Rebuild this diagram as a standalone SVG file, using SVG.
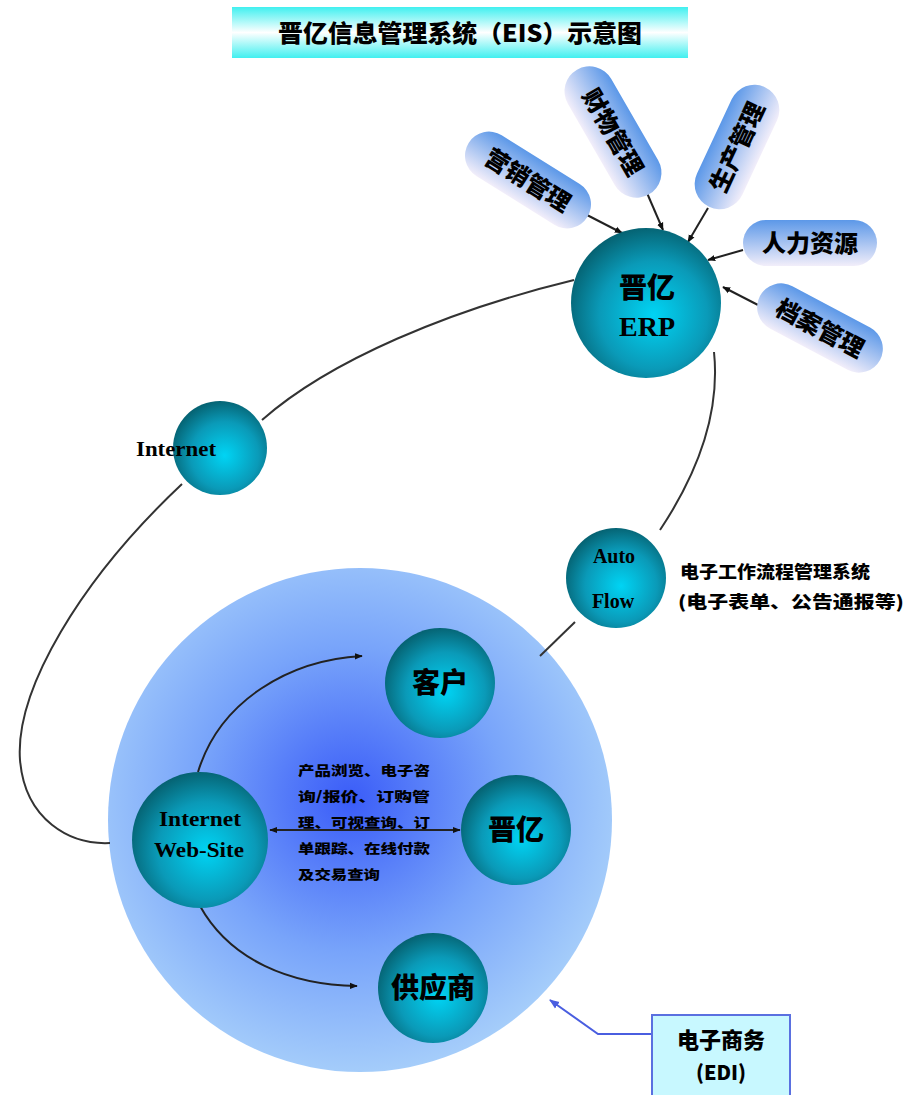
<svg xmlns="http://www.w3.org/2000/svg" width="916" height="1095" viewBox="0 0 916 1095">
<defs>
<linearGradient id="banner" x1="0" y1="0" x2="0" y2="1">
<stop offset="0" stop-color="#40f0f0"/><stop offset="0.5" stop-color="#ffffff"/><stop offset="1" stop-color="#40f0f0"/>
</linearGradient>
<radialGradient id="sphere" cx="0.55" cy="0.58" r="0.6">
<stop offset="0" stop-color="#00d4f4"/><stop offset="0.6" stop-color="#0a9ab8"/><stop offset="1" stop-color="#05606f"/>
</radialGradient>
<radialGradient id="big" cx="0.48" cy="0.46" r="0.55">
<stop offset="0" stop-color="#3a5cf8"/><stop offset="0.55" stop-color="#78a4fa"/><stop offset="1" stop-color="#a6cefa"/>
</radialGradient>
<linearGradient id="pill" x1="0" y1="0" x2="0" y2="1">
<stop offset="0" stop-color="#5c98e8"/><stop offset="1" stop-color="#f2eefa"/>
</linearGradient>
<marker id="ah" viewBox="0 0 10 10" refX="9" refY="5" markerWidth="8" markerHeight="8" orient="auto-start-reverse" markerUnits="userSpaceOnUse">
<path d="M0,1 L10,5 L0,9 Z" fill="#111"/>
</marker>
<marker id="ahb" viewBox="0 0 10 10" refX="9" refY="5" markerWidth="10" markerHeight="10" orient="auto" markerUnits="userSpaceOnUse">
<path d="M0,1 L10,5 L0,9 Z" fill="#4a5ee0"/>
</marker>
</defs>
<style>
.cj{font-family:"Noto Sans CJK SC","Noto Sans",sans-serif;font-weight:900;fill:#000}
.lt{font-family:"Liberation Serif","Times New Roman",serif;font-weight:bold;fill:#000}
.sph{fill:url(#sphere)}
.pl{fill:url(#pill)}
.con{fill:none;stroke:#333;stroke-width:2}
.arr{fill:none;stroke:#222;stroke-width:2;marker-end:url(#ah)}
.t22{font-size:24px;text-anchor:middle}
</style>
<rect width="916" height="1095" fill="#fff"/>

<g id="title">
<rect x="232" y="7" width="456" height="51" fill="url(#banner)"/>
<text x="460" y="42" class="cj" font-size="24" text-anchor="middle" textLength="364" lengthAdjust="spacingAndGlyphs">晋亿信息管理系统（EIS）示意图</text>
</g>

<g id="bigcircle">
<circle cx="360" cy="820" r="252" fill="url(#big)"/>
</g>

<g id="connectors">
<path class="con" d="M574,280 C450,310 330,360 262,420"/>
<path class="con" d="M182,484 C80,580 15,690 20,760 C25,820 70,845 110,843"/>
<path class="con" d="M714,352 C720,410 700,470 660,530"/>
<path class="con" d="M575,622 L540,656"/>
<path class="arr" d="M587,215 L622,233"/>
<path class="arr" d="M647,193 L663,230"/>
<path class="arr" d="M708,208 L688,242"/>
<path class="arr" d="M743,250 L708,260"/>
<path class="arr" d="M758,305 L723,287"/>
<path class="arr" stroke-width="1.6" d="M198,772 C220,700 290,660 362,656"/>
<path class="arr" stroke-width="1.6" d="M200,906 C230,960 290,985 357,986"/>
<path class="arr" stroke-width="1.6" marker-start="url(#ah)" d="M270,830 L460,830"/>
<path d="M652,1034 L598,1034 L550,1000" fill="none" stroke="#4a5ee0" stroke-width="2" marker-end="url(#ahb)"/>
</g>

<g id="pill-yingxiao" transform="translate(528,180) rotate(32)">
<rect x="-70" y="-24" width="140" height="48" rx="24" class="pl"/>
<text x="0" y="9" class="cj t22">营销管理</text>
</g>
<g id="pill-caiwu" transform="translate(613,132) rotate(60)">
<rect x="-72" y="-25" width="144" height="50" rx="25" class="pl"/>
<text x="0" y="9" class="cj t22">财物管理</text>
</g>
<g id="pill-shengchan" transform="translate(737,147) rotate(-65)">
<rect x="-66" y="-25" width="132" height="50" rx="25" class="pl"/>
<text x="0" y="9" class="cj t22">生产管理</text>
</g>
<g id="pill-renli">
<rect x="743" y="220" width="134" height="46" rx="23" class="pl"/>
<text x="810" y="252" class="cj t22" font-weight="500">人力资源</text>
</g>
<g id="pill-dangan" transform="translate(820,328) rotate(28)">
<rect x="-68" y="-24" width="136" height="48" rx="24" class="pl"/>
<text x="0" y="9" class="cj t22">档案管理</text>
</g>

<g id="erp">
<circle cx="646" cy="303" r="75" class="sph"/>
<text x="647" y="298" class="cj" font-size="28" text-anchor="middle">晋亿</text>
<text x="647" y="336" class="lt" font-size="28" text-anchor="middle">ERP</text>
</g>

<g id="internet">
<circle cx="220" cy="448" r="47" class="sph"/>
<text x="176" y="456" class="lt" font-size="20" text-anchor="middle" textLength="80" lengthAdjust="spacingAndGlyphs">Internet</text>
</g>

<g id="autoflow">
<circle cx="616" cy="578" r="50" class="sph"/>
<text x="614" y="563" class="lt" font-size="20" text-anchor="middle">Auto</text>
<text x="613" y="608" class="lt" font-size="20" text-anchor="middle">Flow</text>
<text x="680" y="578" class="cj" font-size="17" textLength="190" lengthAdjust="spacingAndGlyphs">电子工作流程管理系统</text>
<text x="678" y="608" class="cj" font-size="17" textLength="226" lengthAdjust="spacingAndGlyphs">(电子表单、公告通报等)</text>
</g>

<g id="website">
<circle cx="200" cy="840" r="68" class="sph"/>
<text x="200" y="826" class="lt" font-size="20" text-anchor="middle" textLength="82" lengthAdjust="spacingAndGlyphs">Internet</text>
<text x="199" y="857" class="lt" font-size="20" text-anchor="middle" textLength="90" lengthAdjust="spacingAndGlyphs">Web-Site</text>
</g>

<g id="desc">
<text class="cj" font-size="13" x="298" y="775" textLength="132" lengthAdjust="spacingAndGlyphs">产品浏览、电子咨</text>
<text class="cj" font-size="13" x="298" y="801" textLength="132" lengthAdjust="spacingAndGlyphs">询/报价、订购管</text>
<text class="cj" font-size="13" x="298" y="827" textLength="132" lengthAdjust="spacingAndGlyphs">理、可视查询、订</text>
<text class="cj" font-size="13" x="298" y="853" textLength="132" lengthAdjust="spacingAndGlyphs">单跟踪、在线付款</text>
<text class="cj" font-size="13" x="298" y="879" textLength="82" lengthAdjust="spacingAndGlyphs">及交易查询</text>
</g>

<g id="kehu">
<circle cx="440" cy="683" r="55" class="sph"/>
<text x="440" y="693" class="cj" font-size="28" text-anchor="middle">客户</text>
</g>
<g id="jinyi">
<circle cx="516" cy="830" r="55" class="sph"/>
<text x="516" y="840" class="cj" font-size="28" text-anchor="middle">晋亿</text>
</g>
<g id="gongying">
<circle cx="433" cy="988" r="55" class="sph"/>
<text x="433" y="998" class="cj" font-size="28" text-anchor="middle">供应商</text>
</g>

<g id="edi">
<rect x="652" y="1015" width="138" height="90" fill="#c8f8ff" stroke="#5a70e0" stroke-width="2"/>
<text x="721" y="1048" class="cj" font-size="22" text-anchor="middle">电子商务</text>
<text x="721" y="1080" class="cj" font-size="20" text-anchor="middle">(EDI)</text>
</g>
</svg>
